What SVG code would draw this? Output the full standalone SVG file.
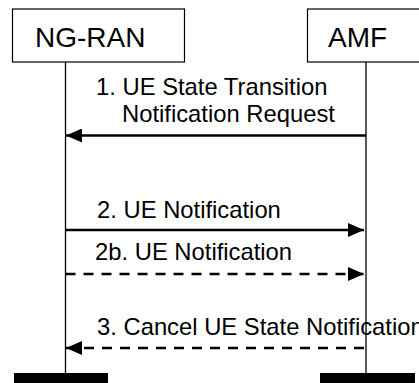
<svg xmlns="http://www.w3.org/2000/svg" width="419" height="383" viewBox="0 0 419 383">
<style>
.box{fill:#fff;stroke:#000;stroke-width:1.2}
.life{stroke:#000;stroke-width:1.3;fill:none}
.msg{stroke:#000;stroke-width:2.5;fill:none}
.dash{stroke-dasharray:10 8}
.t{font-family:"Liberation Sans",Arial,sans-serif;fill:#000}
.big{font-size:28px}
.lbl{font-size:23.8px}
.bar{fill:#000}
</style>
<defs>
<marker id="ah" markerUnits="userSpaceOnUse" markerWidth="17" markerHeight="14" refX="16" refY="7" orient="auto">
<path d="M0,0 L16,7 L0,14 Z" fill="#000"/>
</marker>
</defs>
<g id="ngran">
<rect class="box" x="12.5" y="9" width="172" height="53"/>
<text class="t big" x="35" y="47">NG-RAN</text>
<line class="life" x1="65.5" y1="62" x2="65.5" y2="374"/>
<rect class="bar" x="14" y="373" width="94" height="10"/>
</g>
<g id="amf">
<rect class="box" x="307.5" y="9" width="130" height="53"/>
<text class="t big" x="328" y="47">AMF</text>
<line class="life" x1="366" y1="62" x2="366" y2="374"/>
<rect class="bar" x="320" y="373" width="95" height="10"/>
</g>
<g id="connectors">
<line class="msg" x1="366" y1="135.5" x2="66" y2="135.5" marker-end="url(#ah)"/>
<line class="msg" x1="65.5" y1="230" x2="364" y2="230" marker-end="url(#ah)"/>
<line class="msg dash" x1="65.5" y1="274" x2="364" y2="274" marker-end="url(#ah)"/>
<line class="msg dash" x1="364" y1="348" x2="66" y2="348" marker-end="url(#ah)"/>
</g>
<g id="labels">
<text class="t lbl" x="96" y="95">1. UE State Transition</text>
<text class="t lbl" x="122" y="122">Notification Request</text>
<text class="t lbl" x="97" y="218">2. UE Notification</text>
<text class="t lbl" x="95" y="260">2b. UE Notification</text>
<text class="t lbl" x="97" y="335">3. Cancel UE State Notification</text>
</g>
</svg>
